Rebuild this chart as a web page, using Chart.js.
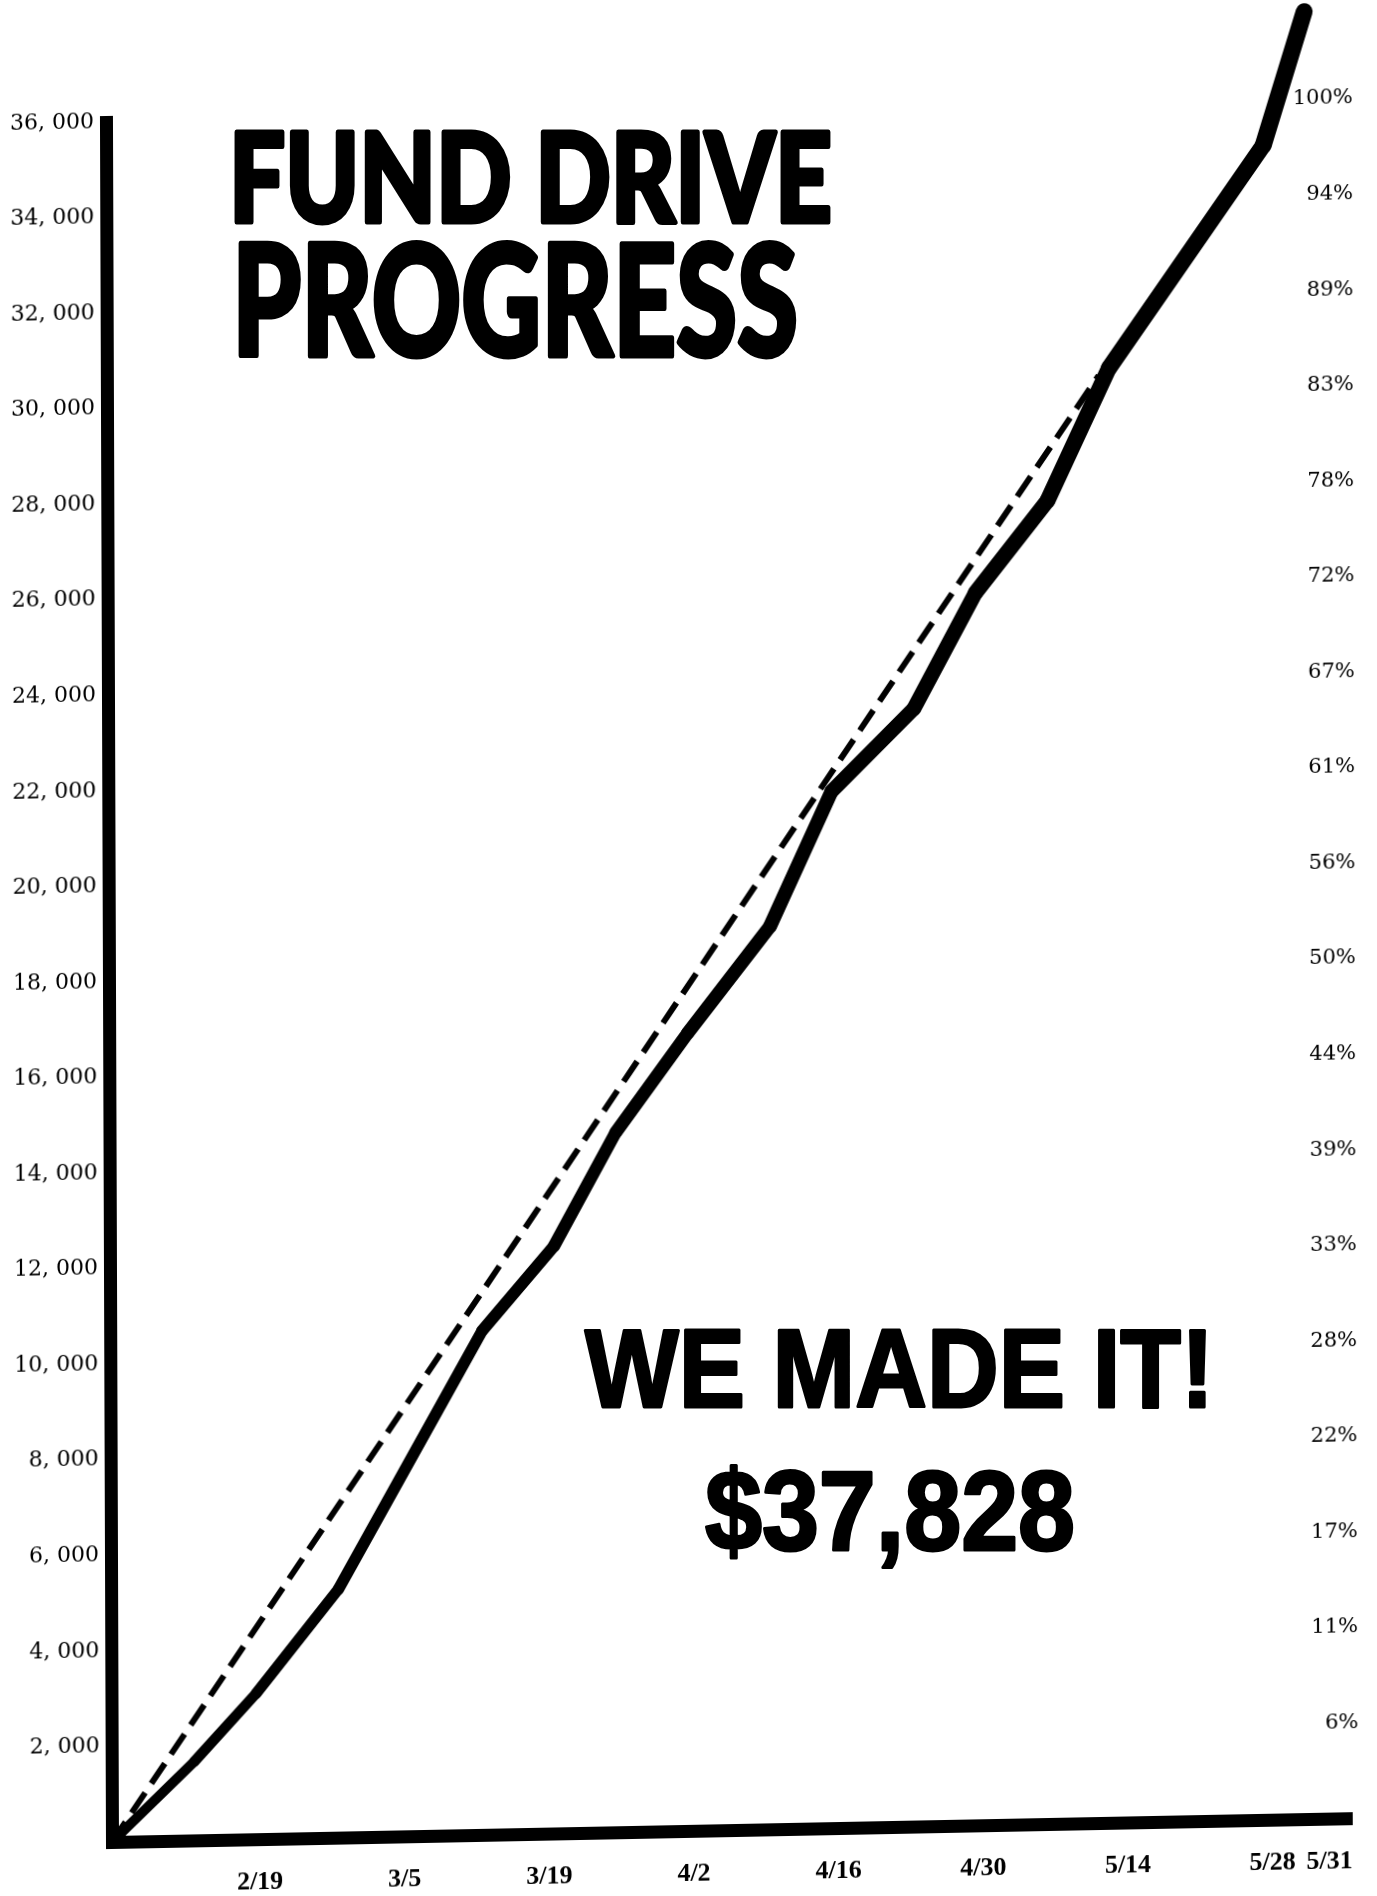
<!DOCTYPE html>
<html>
<head>
<meta charset="utf-8">
<title>Fund Drive Progress</title>
<script src="https://cdn.jsdelivr.net/npm/chart.js@4.4.1/dist/chart.umd.min.js"></script>
<style>
  html, body { margin: 0; padding: 0; background: #fff; }
  #page { position: relative; width: 1377px; height: 1896px; overflow: hidden; background: #fff; }
  /* the printed sheet sits a little askew on the scanner */
  #chart-progress { position: absolute; left: 0; top: 0; transform-origin: 112px 1842px; transform: skew(0.2deg, -1.1deg); }
  #headline { position: absolute; left: 0; top: 0; pointer-events: none; }
</style>
</head>
<body>
<div id="page">
  <canvas id="chart-progress" width="1377" height="1896"></canvas>
  <svg id="headline" width="1377" height="1896" xmlns="http://www.w3.org/2000/svg">
    <g font-family="Lato, 'DejaVu Sans', sans-serif" font-weight="900" fill="#000" stroke="#000" stroke-width="5" stroke-linejoin="round">
      <text x="229" y="222" font-size="124" textLength="603" lengthAdjust="spacingAndGlyphs">FUND DRIVE</text>
      <text x="232" y="356" font-size="155" textLength="566" lengthAdjust="spacingAndGlyphs">PROGRESS</text>
    </g>
    <g font-family="'Liberation Sans', Arial, sans-serif" font-weight="bold" fill="#000" stroke="#000" stroke-width="3" stroke-linejoin="round">
      <text x="585" y="1407" font-size="111" textLength="629" lengthAdjust="spacingAndGlyphs">WE MADE IT!</text>
      <text x="705" y="1550" font-size="113" textLength="370" lengthAdjust="spacingAndGlyphs">$37,828</text>
    </g>
  </svg>
</div>
<script>
// days counted from Feb 4 (start of the drive)
const tickDays = [15, 29, 43, 57, 71, 85, 99, 113, 116];
const tickDates = ['2/19', '3/5', '3/19', '4/2', '4/16', '4/30', '5/14', '5/28', '5/31'];

const amountTicks = [2000, 4000, 6000, 8000, 10000, 12000, 14000, 16000, 18000,
  20000, 22000, 24000, 26000, 28000, 30000, 32000, 34000, 36000];
const amountLabels = ['2, 000', '4, 000', '6, 000', '8, 000', '10, 000', '12, 000', '14, 000', '16, 000', '18, 000',
  '20, 000', '22, 000', '24, 000', '26, 000', '28, 000', '30, 000', '32, 000', '34, 000', '36, 000'];
const percentLabels = ['6%', '11%', '17%', '22%', '28%', '33%', '39%', '44%', '50%',
  '56%', '61%', '67%', '72%', '78%', '83%', '89%', '94%', '100%'];

// money raised so far
const progressDays = [0, 8, 14, 22, 36, 43, 49, 56, 64, 70, 78, 84, 91, 97, 112, 116];
const progressAmounts = [0, 1650, 3050, 5200, 10550, 12300, 14650, 16700, 18900,
  21700, 23400, 25800, 27700, 30450, 35050, 37828];

// pace needed to reach the goal
const paceDays = [0, 96];
const paceAmounts = [0, 30300];

window.addEventListener('DOMContentLoaded', () => {
  const ctx = document.getElementById('chart-progress');
  const serif = "'DejaVu Serif', 'Liberation Serif', serif";
  const dateFont = "'Liberation Serif', 'Times New Roman', serif";

  // the last date is lettered a bit to the right of its spot
  const nudgeLastDate = {
    id: 'nudgeLastDate',
    beforeDraw(chart) {
      const items = chart.scales.x.getLabelItems();
      const last = items[items.length - 1];
      if (last && !last._nudged) {
        last.options.translation[0] += 26;
        last._nudged = true;
      }
    }
  };

  new Chart(ctx, {
    type: 'line',
    data: {
      datasets: [
        {
          label: 'Raised',
          data: progressDays.map((d, i) => ({ x: d, y: progressAmounts[i] })),
          borderColor: '#000',
          borderWidth: 12,
          borderCapStyle: 'round',
          borderJoinStyle: 'round',
          pointRadius: 0,
          clip: false,
          segment: {
            borderWidth: (c) => 10 + c.p0DataIndex * 0.5
          }
        },
        {
          label: 'Goal pace',
          data: paceDays.map((d, i) => ({ x: d, y: paceAmounts[i] })),
          borderColor: '#000',
          borderWidth: 6,
          borderDash: [24, 11],
          pointRadius: 0,
          clip: false
        }
      ]
    },
    options: {
      responsive: false,
      animation: false,
      devicePixelRatio: 1,
      layout: {
        padding: { left: 12, top: 122, right: 25, bottom: 0 }
      },
      plugins: {
        legend: { display: false },
        tooltip: { enabled: false }
      },
      scales: {
        x: {
          type: 'linear',
          min: 0,
          max: 120,
          grid: { display: false },
          border: { display: true, width: 13, color: '#000' },
          afterBuildTicks: (s) => { s.ticks = tickDays.map((v) => ({ value: v })); },
          afterFit: (s) => { s.height = 54; },
          ticks: {
            autoSkip: false,
            maxRotation: 0,
            padding: 20,
            labelOffset: -7,
            color: '#000',
            font: { family: dateFont, size: 26, weight: 'bold' },
            callback: (v, i) => tickDates[i]
          }
        },
        y: {
          position: 'left',
          min: 0,
          max: 36000,
          grid: { display: false },
          border: { display: true, width: 13, color: '#000' },
          afterBuildTicks: (s) => { s.ticks = amountTicks.map((v) => ({ value: v })); },
          afterFit: (s) => { s.width = 100; },
          ticks: {
            padding: 4,
            color: '#000',
            font: { family: serif, size: 22 },
            callback: (v, i) => amountLabels[i]
          }
        },
        y2: {
          position: 'right',
          min: 0,
          max: 36000,
          grid: { display: false },
          border: { display: false },
          afterBuildTicks: (s) => { s.ticks = amountTicks.map((v) => ({ value: v })); },
          afterFit: (s) => { s.width = 0; },
          ticks: {
            mirror: true,
            padding: 7,
            color: '#000',
            font: { family: serif, size: 21 },
            callback: (v, i) => percentLabels[i]
          }
        }
      }
    },
    plugins: [nudgeLastDate]
  });
});
</script>
</body>
</html>
